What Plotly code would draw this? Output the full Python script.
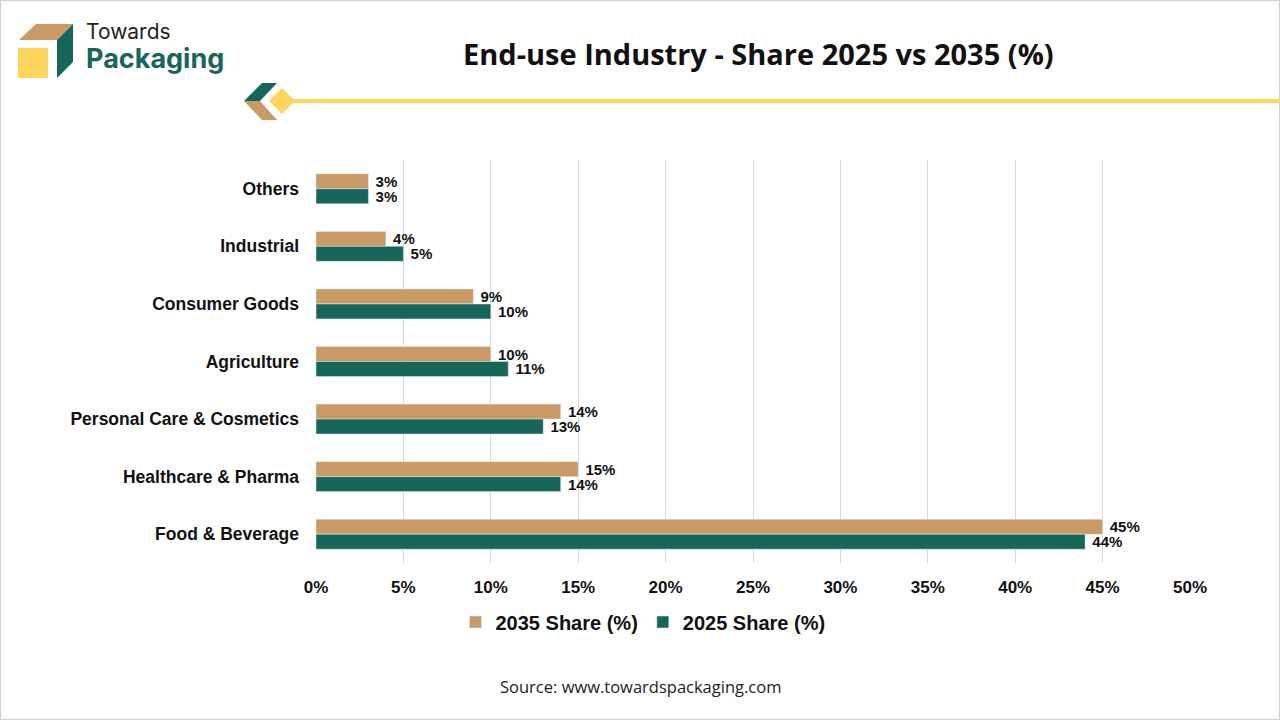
import plotly.graph_objects as go

# ── data (top to bottom as in the chart) ──
categories = ["Others", "Industrial", "Consumer Goods", "Agriculture",
              "Personal Care & Cosmetics", "Healthcare & Pharma", "Food & Beverage"]
share_2035 = [3, 4, 9, 10, 14, 15, 45]
share_2025 = [3, 5, 10, 11, 13, 14, 44]
x_ticks = [0, 5, 10, 15, 20, 25, 30, 35, 40, 45, 50]
x_tick_labels = [f"{v}%" for v in x_ticks]

TAN = "#C99A66"
GREEN = "#17665A"
YELLOW = "#FFD65C"

W, H = 1280, 720
L, R, T, B = 316, 90, 160, 157


def px(x):
    return (x - L) / (W - L - R)


def py(y):
    return (H - B - y) / (H - T - B)


def poly(pts):
    return "M " + " L ".join(f"{px(a)},{py(b)}" for a, b in pts) + " Z"


label_font = dict(size=15, color="#111", family="Liberation Sans", weight="bold")

fig = go.Figure()
fig.add_trace(go.Bar(
    y=categories, x=share_2035, orientation="h", name="2035 Share (%)",
    marker_color=TAN, text=[f"{v}%" for v in share_2035],
    texttemplate=" %{text}", textposition="outside", constraintext="none",
    textfont=label_font, cliponaxis=False))
fig.add_trace(go.Bar(
    y=categories, x=share_2025, orientation="h", name="2025 Share (%)",
    marker_color=GREEN, text=[f"{v}%" for v in share_2025],
    texttemplate=" %{text}", textposition="outside", constraintext="none",
    textfont=label_font, cliponaxis=False))

shapes = [
    # border
    dict(type="rect", xref="paper", yref="paper", x0=px(0.5), x1=px(W - 0.5),
         y0=py(0.5), y1=py(H - 0.5), line=dict(color="#D0D0D0", width=1)),
    # logo
    dict(type="path", xref="paper", yref="paper",
         path=poly([(19, 40), (36, 24), (73, 24), (57, 40)]),
         fillcolor=TAN, line_width=0),
    dict(type="path", xref="paper", yref="paper",
         path=poly([(57, 40), (73, 24), (73, 62), (57, 78)]),
         fillcolor=GREEN, line_width=0),
    dict(type="rect", xref="paper", yref="paper", x0=px(18), x1=px(48),
         y0=py(48), y1=py(78), fillcolor=YELLOW, line_width=0),
    # header decoration
    dict(type="line", xref="paper", yref="paper", x0=px(285), x1=px(1280),
         y0=py(101), y1=py(101), line=dict(color=YELLOW, width=4)),
    dict(type="path", xref="paper", yref="paper",
         path=poly([(244, 101), (262, 83), (277, 83), (260, 101)]),
         fillcolor=GREEN, line_width=0),
    dict(type="path", xref="paper", yref="paper",
         path=poly([(244, 101), (260, 101), (277, 120), (262, 120)]),
         fillcolor=TAN, line_width=0),
    dict(type="path", xref="paper", yref="paper",
         path=poly([(269, 101), (282, 88), (295, 101), (282, 114)]),
         fillcolor=YELLOW, line_width=0),
]

annotations = [
    dict(text="Towards", x=px(84), y=py(32), xref="paper", yref="paper",
         xanchor="left", yanchor="middle", showarrow=False,
         font=dict(size=21, color="#222", family="Inter")),
    dict(text="<b>Packaging</b>", x=px(84), y=py(58), xref="paper", yref="paper",
         xanchor="left", yanchor="middle", showarrow=False,
         font=dict(size=27, color=GREEN, family="Inter")),
    dict(text="<b>End-use Industry - Share 2025 vs 2035 (%)</b>", x=px(758), y=py(54),
         xref="paper", yref="paper", xanchor="center", yanchor="middle",
         showarrow=False, font=dict(size=29, color="#111", family="Open Sans")),
    dict(text="Source: www.towardspackaging.com", x=px(640), y=py(686),
         xref="paper", yref="paper", xanchor="center", yanchor="middle",
         showarrow=False, font=dict(size=16.5, color="#222", family="Open Sans")),
]

fig.update_layout(
    width=W, height=H, margin=dict(l=L, r=R, t=T, b=B),
    paper_bgcolor="white", plot_bgcolor="white",
    barmode="group", bargap=0.48, bargroupgap=0,
    font=dict(family="Liberation Sans", color="#111"),
    xaxis=dict(range=[0, 50], tickmode="array", tickvals=x_ticks, ticktext=x_tick_labels,
               showgrid=True, gridcolor="#D9D9D9", gridwidth=1, zeroline=False,
               showline=False, ticks="", ticklabelstandoff=12,
               tickfont=dict(size=17, weight="bold")),
    yaxis=dict(autorange="reversed", showgrid=False, showline=False, ticks="",
               ticklabelstandoff=16, tickfont=dict(size=17.5, weight="bold")),
    legend=dict(orientation="h", x=px(643), y=py(622), xanchor="center",
                yanchor="middle", font=dict(size=20, weight="bold")),
    shapes=shapes, annotations=annotations,
)

fig.write_html("out.html", config={"displayModeBar": False},
               post_script="document.body.style.margin='0';")
